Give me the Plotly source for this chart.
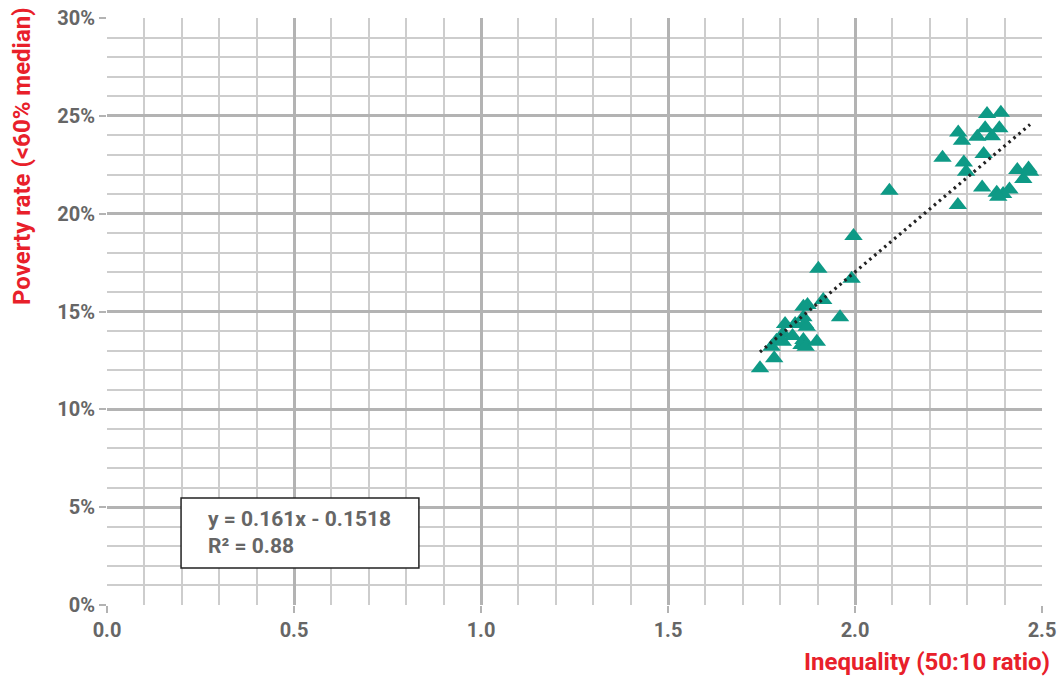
import plotly.graph_objects as go

# Inequality (50:10 ratio) and poverty rate (<60% median)
inequality = [2.353, 2.390, 2.276, 2.348, 2.327, 2.366, 2.386, 2.286, 2.234, 2.291,
              2.344, 2.297, 2.092, 2.340, 2.275, 2.434, 2.464, 2.450, 2.468, 2.379,
              2.396, 2.413, 2.383, 1.996, 1.902, 1.991, 1.915, 1.960, 1.862, 1.873,
              1.813, 1.840, 1.866, 1.862, 1.871, 1.808, 1.833, 1.807, 1.862, 1.857,
              1.868, 1.898, 1.777, 1.790, 1.784, 1.746]
poverty = [0.2509, 0.2516, 0.2415, 0.2436, 0.2393, 0.2396, 0.2436, 0.2373, 0.2286, 0.2262,
           0.2305, 0.2214, 0.2117, 0.2134, 0.2044, 0.2223, 0.2231, 0.2177, 0.2214, 0.2107,
           0.2100, 0.2124, 0.2087, 0.1886, 0.1719, 0.1668, 0.1559, 0.1470, 0.1524, 0.1533,
           0.1436, 0.1436, 0.1436, 0.1470, 0.1422, 0.1388, 0.1375, 0.1346, 0.1354, 0.1329,
           0.1320, 0.1346, 0.1320, 0.1351, 0.1261, 0.1210]

# Linear trend reported on the chart
slope = 0.161
intercept = -0.1518
r_squared = 0.88

x_ticks = [0.0, 0.5, 1.0, 1.5, 2.0, 2.5]
x_tick_labels = ["0.0", "0.5", "1.0", "1.5", "2.0", "2.5"]
y_ticks = [0.0, 0.05, 0.10, 0.15, 0.20, 0.25, 0.30]
y_tick_labels = ["0%", "5%", "10%", "15%", "20%", "25%", "30%"]

x_title = "Inequality (50:10 ratio)"
y_title = "Poverty rate (<60% median)"

trend_x = [min(inequality), max(inequality)]
trend_y = [slope * v + intercept for v in trend_x]

RED = "#E8202A"
GREY_TXT = "#666666"
TEAL = "#0E9A86"
MAJ = "#B3B3B3"
MIN = "#CDCDCD"
FONT = "Roboto"

fig = go.Figure()
fig.add_trace(go.Scatter(
    x=inequality, y=poverty, mode="markers",
    marker=dict(symbol="triangle-up", size=16, color=TEAL, line=dict(width=0)),
    showlegend=False, hoverinfo="x+y"))
fig.add_trace(go.Scatter(
    x=trend_x, y=trend_y, mode="lines",
    line=dict(color="#222222", width=3.2, dash="2.5px,4px"),
    showlegend=False, hoverinfo="skip"))

axis_common = dict(
    showline=False, zeroline=False, automargin=False,
    showgrid=True, gridcolor=MAJ, gridwidth=3,
    ticks="outside", ticklen=7, tickwidth=2, tickcolor=MAJ,
    ticklabeloverflow="allow",
    tickfont=dict(family=FONT, size=20, color=GREY_TXT, weight="bold"),
)

fig.update_layout(
    width=1062, height=678,
    margin=dict(l=107, r=20, t=18, b=73),
    paper_bgcolor="white", plot_bgcolor="white",
    font=dict(family=FONT),
    xaxis=dict(range=[0, 2.50001], tickvals=x_ticks, ticktext=x_tick_labels,
               minor=dict(dtick=0.1, showgrid=True, gridcolor=MIN, gridwidth=2, ticks=""),
               **axis_common),
    yaxis=dict(range=[0, 0.300001], tickvals=y_ticks, ticktext=y_tick_labels,
               minor=dict(dtick=0.01, showgrid=True, gridcolor=MIN, gridwidth=2, ticks=""),
               **axis_common),
    shapes=[
        dict(type="rect", xref="x", yref="y", x0=0.198, x1=0.834, y0=0.0189, y1=0.0547,
             line=dict(color="#222222", width=1.5), fillcolor="white", layer="above"),
    ],
    annotations=[
        dict(xref="x", yref="y", x=0.265, y=0.0368, xanchor="left", yanchor="middle",
             align="left", showarrow=False,
             text=f"y = {slope:.3f}x - {abs(intercept):.4f}<br>R\u00b2 = {r_squared:.2f}",
             font=dict(family=FONT, size=21, color=GREY_TXT, weight="bold")),
        dict(xref="paper", yref="paper", x=1.0107, y=-0.097, xanchor="right", yanchor="middle",
             showarrow=False, text=x_title,
             font=dict(family=FONT, size=24, color=RED, weight="bold")),
        dict(xref="paper", yref="paper", x=-0.091, y=1.022, xanchor="center", yanchor="top",
             textangle=-90, showarrow=False, text=y_title,
             font=dict(family=FONT, size=24, color=RED, weight="bold")),
    ],
)

fig.write_html("out.html",
               config={"displayModeBar": False},
               post_script="document.body.style.margin='0';document.body.style.overflow='hidden';")
